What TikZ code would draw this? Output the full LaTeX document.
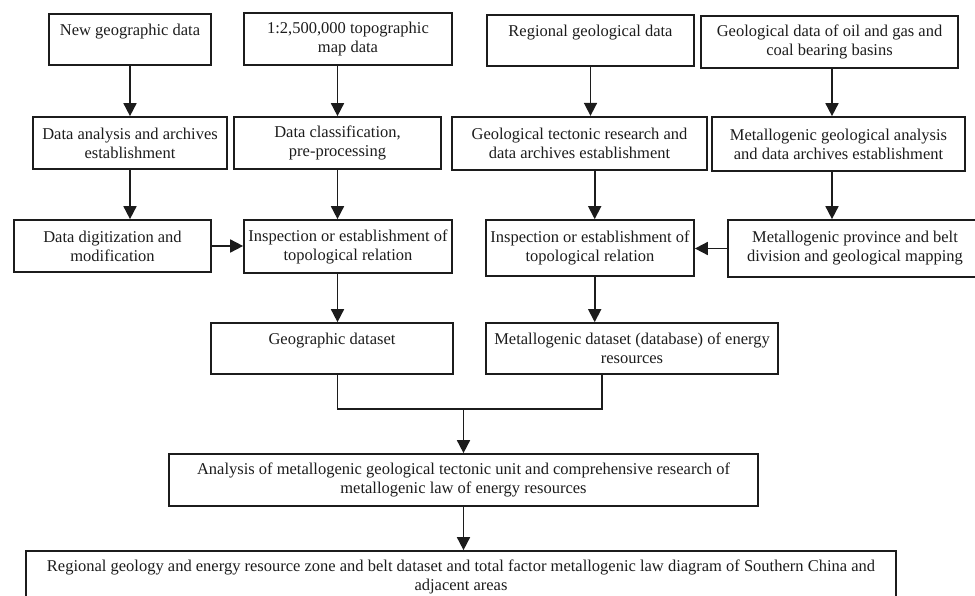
\documentclass[tikz,border=0pt]{standalone}
\usepackage{fontspec}
\setmainfont{Liberation Serif}
\usetikzlibrary{arrows.meta}
\definecolor{ink}{HTML}{1C1C1C}
\begin{document}
\begin{tikzpicture}[x=1pt,y=-1pt,
  box/.style={draw=ink, line width=1.7pt, rectangle, inner sep=0pt, align=center,
    text=ink, font=\fontsize{16.5}{19}\selectfont},
  link/.style={draw=ink, line width=1.7pt},
  arr/.style={link, -{Triangle[length=13pt,width=13pt]}}]
\useasboundingbox (0,0) rectangle (975,595);
\clip (0,0) rectangle (975,595);

% first row: sources
\node[box, minimum width=162pt, minimum height=51pt] (A) at (130,39.5) {New geographic data\\\mbox{}};
\node[box, minimum width=208pt, minimum height=52pt] (B) at (348,39) {1:2,500,000 topographic\\map data};
\node[box, minimum width=207pt, minimum height=51pt] (C) at (590.5,40.5) {Regional geological data\\\mbox{}};
\node[box, minimum width=257pt, minimum height=52pt] (D) at (829.5,42) {Geological data of oil and gas and\\coal bearing basins};

% second row
\node[box, minimum width=194pt, minimum height=52pt] (A2) at (130,143) {Data analysis and archives\\establishment};
\node[box, minimum width=207pt, minimum height=52pt] (B2) at (337.5,143) {Data classification,\\pre-processing};
\node[box, minimum width=255.6pt, minimum height=53.6pt] (C2) at (579.5,143.5) {Geological tectonic research and\\data archives establishment};
\node[box, minimum width=253pt, minimum height=54pt] (D2) at (838.5,144) {Metallogenic geological analysis\\and data archives establishment};

% third row
\node[box, minimum width=197pt, minimum height=52pt] (A3) at (112.5,246) {Data digitization and\\modification};
\node[box, minimum width=208pt, minimum height=53pt] (B3) at (348,246.5) {Inspection or establishment of\\topological relation};
\node[box, minimum width=208pt, minimum height=56pt] (C3) at (590,248) {Inspection or establishment of\\topological relation};
\node[box, minimum width=254pt, minimum height=57pt] (D3) at (855,248.5) {Metallogenic province and belt\\division and geological mapping};

% datasets
\node[box, minimum width=242pt, minimum height=51pt] (Geo) at (332,348.5) {Geographic dataset\\\mbox{}};
\node[box, minimum width=292pt, minimum height=51pt] (Meta) at (632,348.5) {Metallogenic dataset (database) of energy\\resources};

% synthesis
\node[box, minimum width=589pt, minimum height=52pt] (Ana) at (463.5,480) {Analysis of metallogenic geological tectonic unit and comprehensive research of\\metallogenic law of energy resources};
\node[box, minimum width=870pt, minimum height=52pt] (Fin) at (461,577) {Regional geology and energy resource zone and belt dataset and total factor metallogenic law diagram of Southern China and\\adjacent areas};

% connector positions
\coordinate (dx) at ([xshift=2.5pt]D.south);
\coordinate (cx) at ([xshift=4.7pt]C3.north);
\coordinate (mx) at ([xshift=-30.3pt]Meta.south);
\coordinate (J) at ([yshift=-34pt]Geo.south -| Ana.north);

% vertical flow
\draw[arr] (A.south) -- (A.south |- A2.north);
\draw[arr] (B2.north |- B.south) -- (B2.north);
\draw[arr] (C.south) -- (C.south |- C2.north);
\draw[arr] (dx) -- (dx |- D2.north);
\draw[arr] (A2.south) -- (A2.south |- A3.north);
\draw[arr] (B2.south) -- (B2.south |- B3.north);
\draw[arr] (cx |- C2.south) -- (cx);
\draw[arr] (dx |- D2.south) -- (dx |- D3.north);
\draw[arr] (B2.south |- B3.south) -- (B2.south |- Geo.north);
\draw[arr] (cx |- C3.south) -- (cx |- Meta.north);

% horizontal links
\draw[arr] (A3.east) -- (A3.east -| B3.west);
\draw[arr] (D3.west) -- (D3.west -| C3.east);

% merge of the two datasets
\draw[link] (B2.south |- Geo.south) |- (J) -| (mx);
\draw[arr] (J) -- (J |- Ana.north);
\draw[arr] (Ana.south) -- (Ana.south |- Fin.north);
\end{tikzpicture}
\end{document}
